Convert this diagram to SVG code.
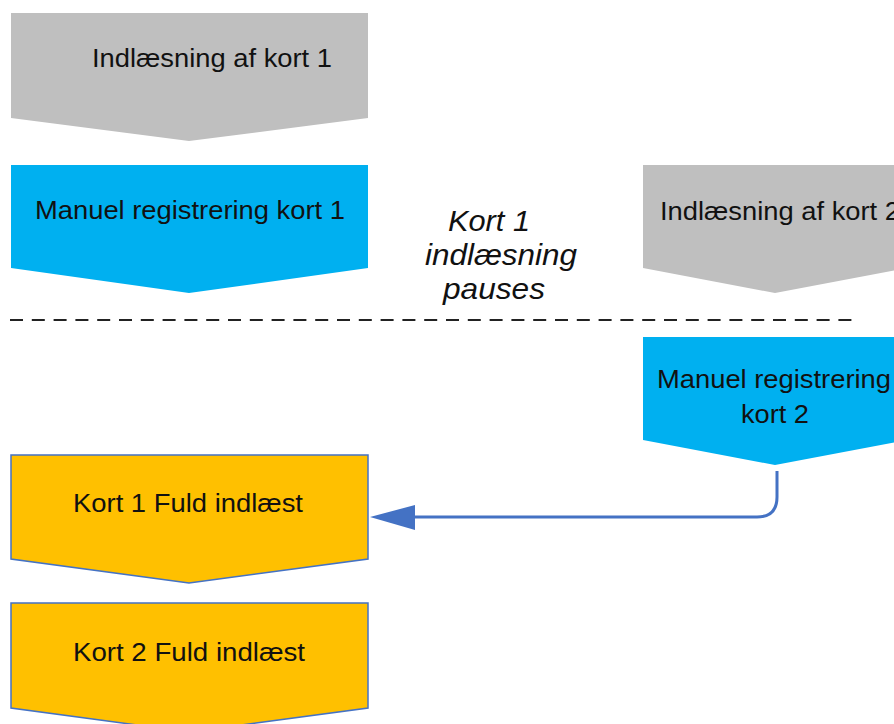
<svg xmlns="http://www.w3.org/2000/svg" width="894" height="724" viewBox="0 0 894 724">
<style>
.t{font-family:"Liberation Sans",Arial,sans-serif;font-size:26px;fill:#111;text-anchor:middle}
.i{font-family:"Liberation Sans",Arial,sans-serif;font-size:29px;font-style:italic;fill:#111;text-anchor:middle}
.gray{fill:#BFBFBF}
.blue{fill:#00B0F0}
.orange{fill:#FFC000;stroke:#4472C4;stroke-width:1.5}
</style>
<rect width="894" height="724" fill="#fff"/>
<g id="n1"><path class="gray" d="M11,13 H368 V118 L189,141 L11,118 Z"/><text class="t" x="212" y="67" textLength="240" lengthAdjust="spacingAndGlyphs">Indlæsning af kort 1</text></g>
<g id="n2"><path class="blue" d="M11,165 H368 V268 L189,293 L11,268 Z"/><text class="t" x="190" y="219" textLength="310" lengthAdjust="spacingAndGlyphs">Manuel registrering kort 1</text></g>
<g id="n3"><path class="gray" d="M643,165 H907 V268 L775,293 L643,268 Z"/><text class="t" x="780" y="220" textLength="240" lengthAdjust="spacingAndGlyphs">Indlæsning af kort 2</text></g>
<g id="n4"><path class="blue" d="M643,337 H907 V440 L775,465 L643,440 Z"/><text class="t" x="774" y="388" textLength="234" lengthAdjust="spacingAndGlyphs">Manuel registrering</text><text class="t" x="775" y="423" textLength="68" lengthAdjust="spacingAndGlyphs">kort 2</text></g>
<g id="n5"><path class="orange" d="M11,455 H368 V559 L189,583 L11,559 Z"/><text class="t" x="188" y="512" textLength="230" lengthAdjust="spacingAndGlyphs">Kort 1 Fuld indlæst</text></g>
<g id="n6"><path class="orange" d="M11,603 H368 V708 L189,732 L11,708 Z"/><text class="t" x="189" y="661" textLength="232" lengthAdjust="spacingAndGlyphs">Kort 2 Fuld indlæst</text></g>
<g id="label"><text class="i" x="489" y="231" textLength="82" lengthAdjust="spacingAndGlyphs">Kort 1</text><text class="i" x="501" y="265" textLength="152" lengthAdjust="spacingAndGlyphs">indlæsning</text><text class="i" x="494" y="299" textLength="102" lengthAdjust="spacingAndGlyphs">pauses</text></g>
<g id="connectors">
<line x1="10" y1="320" x2="852" y2="320" stroke="#222" stroke-width="2.2" stroke-dasharray="13,8.8"/>
<path d="M777,471 V497 Q777,517 757,517 H415" fill="none" stroke="#4472C4" stroke-width="3"/>
<path d="M370,517 L415,505 L415,530 Z" fill="#4472C4"/>
</g>
</svg>
